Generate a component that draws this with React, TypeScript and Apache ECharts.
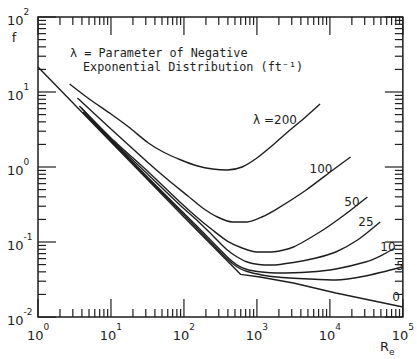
import React, { useEffect, useRef } from "react";
import * as echarts from "echarts";

// Reynolds number range (log axis) and friction factor range (log axis)
const reRange = [1, 100000];
const fRange = [0.01, 100];

// Curves: [Re, f] pairs for each lambda (ft^-1)
const lam200 = [[2.71, 12.8], [5.04, 8.07], [10, 5.09], [17.5, 3.41], [32.6, 2.09], [52, 1.585], [91.1, 1.24], [154.6, 1.03], [246.6, 0.94], [393, 0.912], [627, 1.0], [1000, 1.318], [1594, 1.905], [2543, 2.84], [4317, 4.365], [7328, 6.92]];
const lam100 = [[3.47, 8.32], [10, 3.21], [32.6, 1.13], [60.8, 0.671], [113.3, 0.411], [180.6, 0.284], [288, 0.2154], [459.4, 0.185], [733, 0.185], [1168, 0.2154], [1863, 0.275], [4741, 0.494], [10977, 0.912], [19220, 1.36]];
const lam50 = [[3.69, 6.51], [10, 2.44], [32.6, 0.858], [91.1, 0.331], [154.6, 0.209], [246.6, 0.1445], [393, 0.103], [627, 0.0832], [1000, 0.0736], [1594, 0.0736], [3162, 0.0858], [8043, 0.1445], [16450, 0.236], [32620, 0.398]];
const lam25 = [[3.93, 6.12], [10, 2.36], [32.6, 0.782], [91.1, 0.302], [154.6, 0.191], [246.6, 0.1225], [393, 0.0782], [537, 0.0631], [733, 0.0541], [1064, 0.0501], [1594, 0.0493], [3162, 0.0533], [6469, 0.0612], [12050, 0.0736], [23890, 0.1063], [48900, 0.185]];
const lam10 = [[4.18, 5.41], [32.6, 0.713], [154.6, 0.158], [393, 0.0631], [537, 0.0493], [733, 0.043], [1168, 0.0398], [1863, 0.0386], [5203, 0.0398], [12050, 0.0437], [30660, 0.0541], [48900, 0.065], [78000, 0.0832]];
const lam5 = [[4.18, 5.33], [32.6, 0.692], [154.6, 0.149], [393, 0.0593], [537, 0.0464], [733, 0.0404], [1168, 0.0363], [1863, 0.0341], [5203, 0.0321], [12050, 0.0311], [30660, 0.0352], [96940, 0.0464]];
const lam0 = [[1, 21.5], [10, 2.15], [100, 0.215], [600, 0.037], [1098, 0.0341], [3162, 0.0284], [12050, 0.0209], [100000, 0.0136]];

const curveLabels = ["λ =200", "100", "50", "25", "10", "5", "0"];
const noteLines = ["λ = Parameter of Negative", "Exponential Distribution (ft⁻¹)"];
const xTitle = "R";
const xTitleSub = "e";
const yTitle = "f";

// tick construction
const xDecades = [1, 10, 100, 1000, 10000];
const yDecades = [0.01, 0.1, 1, 10];
const minorMult = [2, 3, 4, 5, 6, 7, 8, 9];

const FONT = "DejaVu Sans";
const MONO = "DejaVu Sans Mono";
const INK = "#1e1e1e";

export default function App() {
  const ref = useRef<HTMLDivElement>(null);
  useEffect(() => {
    const chart = echarts.init(ref.current!, null, { renderer: "svg" });

    const xTicks: number[][] = [];
    xDecades.forEach((d) => {
      xTicks.push([d, 1, 1]);
      minorMult.forEach((m) => xTicks.push([d * m, 1, 0]));
    });
    xTicks.push([reRange[1], 1, 1]);
    const yTicks: number[][] = [];
    yDecades.forEach((d) => {
      yTicks.push([1, d, 1]);
      minorMult.forEach((m) => yTicks.push([1, d * m, 0]));
    });
    yTicks.push([1, fRange[1], 1]);

    const supFmt = (v: number) => {
      const e = Math.round(Math.log10(v));
      return "{b|10}{s|" + (e < 0 ? "-" + -e : String(e)) + "}";
    };
    const rich = {
      b: { fontSize: 13, fontFamily: FONT, color: INK, lineHeight: 20, verticalAlign: "bottom" },
      s: { fontSize: 9, fontFamily: FONT, color: INK, lineHeight: 8, verticalAlign: "top" },
    };

    const lineSeries = (data: number[][], smooth: number | boolean) => ({
      type: "line",
      data,
      showSymbol: false,
      symbol: "none",
      smooth,
      lineStyle: { color: INK, width: 1.4 },
      silent: true,
    });

    const tickLine = (x1: number, y1: number, x2: number, y2: number) => ({
      type: "line",
      shape: { x1, y1, x2, y2 },
      style: { stroke: INK, lineWidth: 1.2 },
    });

    const labelPos = [
      [275, 120], [321, 169], [352, 202], [366, 222], [388, 247], [400, 266], [396, 297],
    ];

    const option: any = {
      animation: false,
      backgroundColor: "#fff",
      grid: { left: 38, right: 9, top: 17, bottom: 42, show: true, borderColor: INK, borderWidth: 1.5, backgroundColor: "transparent" },
      xAxis: {
        type: "log",
        logBase: 10,
        min: reRange[0],
        max: reRange[1],
        axisLine: { show: false },
        axisTick: { show: false },
        splitLine: { show: false },
        axisLabel: { formatter: supFmt, rich, margin: 5, showMaxLabel: true, showMinLabel: true },
      },
      yAxis: {
        type: "log",
        logBase: 10,
        min: fRange[0],
        max: fRange[1],
        axisLine: { show: false },
        axisTick: { show: false },
        splitLine: { show: false },
        axisLabel: { formatter: supFmt, rich, margin: 31, align: "left", showMaxLabel: true, showMinLabel: true },
      },
      series: [
        lineSeries(lam200, 0.25),
        lineSeries(lam100, 0.25),
        lineSeries(lam50, 0.25),
        lineSeries(lam25, 0.25),
        lineSeries(lam10, 0.25),
        lineSeries(lam5, 0.25),
        lineSeries(lam0, false),
        {
          type: "custom",
          silent: true,
          data: xTicks,
          encode: { x: 0, y: 1 },
          renderItem: (params: any, api: any) => {
            const v = api.value(0);
            const major = api.value(2);
            const bot = api.coord([v, fRange[0]]);
            const top = api.coord([v, fRange[1]]);
            const len = major ? 18 : 8;
            return {
              type: "group",
              children: [
                tickLine(bot[0], bot[1], bot[0], bot[1] - len),
                tickLine(top[0], top[1], top[0], top[1] + len),
              ],
            };
          },
        },
        {
          type: "custom",
          silent: true,
          data: yTicks,
          encode: { x: 0, y: 1 },
          renderItem: (params: any, api: any) => {
            const v = api.value(1);
            const major = api.value(2);
            const l = api.coord([reRange[0], v]);
            const r = api.coord([reRange[1], v]);
            const len = major ? 18 : 8;
            return {
              type: "group",
              children: [
                tickLine(l[0], l[1], l[0] + len, l[1]),
                tickLine(r[0], r[1], r[0] - len, r[1]),
              ],
            };
          },
        },
      ],
      graphic: [
        ...curveLabels.map((t, i) => ({
          type: "text",
          x: labelPos[i][0],
          y: labelPos[i][1],
          style: { text: t, fill: INK, font: `12px "${FONT}"`, align: "center", verticalAlign: "middle" },
        })),
        {
          type: "text",
          x: 70,
          y: 53,
          style: { text: noteLines[0], fill: INK, font: `11.8px "${MONO}"`, align: "left", verticalAlign: "middle" },
        },
        {
          type: "text",
          x: 83,
          y: 67,
          style: { text: noteLines[1], fill: INK, font: `11.8px "${MONO}"`, align: "left", verticalAlign: "middle" },
        },
        {
          type: "text",
          x: 14,
          y: 37,
          style: { text: yTitle, fill: INK, font: `13px "${FONT}"`, align: "center", verticalAlign: "middle" },
        },
        {
          type: "text",
          x: 380,
          y: 340,
          style: {
            text: "{b|" + xTitle + "}{s|" + xTitleSub + "}",
            rich: {
              b: { fontSize: 13, fontFamily: FONT, fill: INK, lineHeight: 16, verticalAlign: "top" },
              s: { fontSize: 9, fontFamily: FONT, fill: INK, lineHeight: 6, verticalAlign: "bottom" },
            },
          },
        },
      ],
    };
    chart.setOption(option);
    return () => chart.dispose();
  }, []);
  return <div ref={ref} style={{ position: "fixed", left: 0, top: 0, width: 417, height: 359, background: "#fff" }} />;
}
